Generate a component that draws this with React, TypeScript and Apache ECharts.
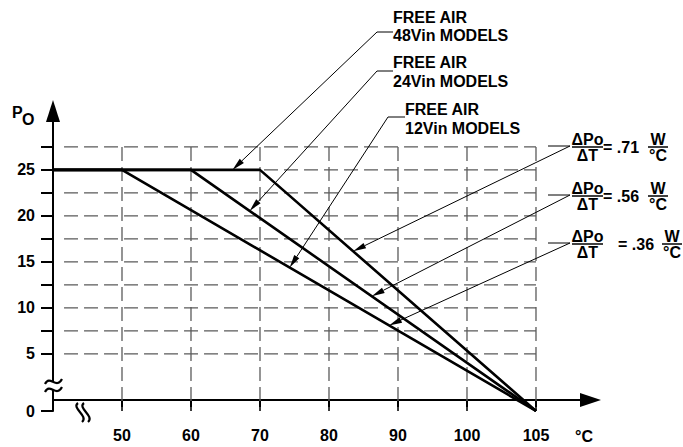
import React, { useEffect, useRef } from 'react';
import * as echarts from 'echarts';

// ---- data ----
const tempTicks = [50, 60, 70, 80, 90, 100, 105];
const tempTickPos = [50, 60, 70, 80, 90, 100, 110]; // broken axis: 105 placed one step after 100
const powerTicks = [0, 5, 7.5, 10, 12.5, 15, 17.5, 20, 22.5, 25, 27.5];
const powerLabels = [0, 5, 10, 15, 20, 25];
const powerGrid = [5, 7.5, 10, 12.5, 15, 17.5, 20, 22.5, 25, 27.5];
const models = ['48Vin', '24Vin', '12Vin'];
const kneeTemps = [70, 60, 50];
const ratedPower = 25;
const zeroPowerTemp = 105;
const originTemp = 40; // y-axis location on the broken temperature axis
const slopeTexts = ['.71', '.56', '.36'];
const modelTipTemps = [66, 68.5, 74.3];
const slopeTipTemps = [83.5, 86.2, 88.7];

// ---- scales for the broken axes ----
const Y_MIN = -1.2;
const xPos = (t: number) => {
  for (let i = 0; i < tempTicks.length - 1; i++) {
    if (t <= tempTicks[i + 1] || i === tempTicks.length - 2) {
      const a = tempTicks[i], b = tempTicks[i + 1];
      return tempTickPos[i] + ((t - a) * (tempTickPos[i + 1] - tempTickPos[i])) / (b - a);
    }
  }
  return t;
};
const yPos = (p: number) => (p >= 5 ? p : Y_MIN + (p * (5 - Y_MIN)) / 5);

const FONT = '"Liberation Sans", Arial, Helvetica, sans-serif';
const LBL = { fontSize: 16, fontWeight: 'bold' as const, fontFamily: FONT, color: '#000' };

export default function App() {
  const ref = useRef<HTMLDivElement>(null);
  useEffect(() => {
    const chart = echarts.init(ref.current!, null, { renderer: 'svg' });

    const gridSeries: any[] = [];
    tempTickPos.forEach((x) => {
      gridSeries.push({
        type: 'line', silent: true, symbol: 'none', z: 1,
        lineStyle: { color: '#5a5a5a', width: 1.3, type: [14, 6] },
        data: [[x, yPos(27.5)], [x, yPos(0)]],
      });
    });
    powerGrid.forEach((p) => {
      gridSeries.push({
        type: 'line', silent: true, symbol: 'none', z: 1,
        lineStyle: { color: '#5a5a5a', width: 1.3, type: [14, 6] },
        data: [[41.6, yPos(p)], [110, yPos(p)]],
      });
    });

    const curveSeries = models.map((m, i) => ({
      name: m,
      type: 'line', symbol: 'none', z: 5,
      lineStyle: { color: '#000', width: 2.6 },
      data: [
        [xPos(originTemp), yPos(ratedPower)],
        [xPos(kneeTemps[i]), yPos(ratedPower)],
        [xPos(zeroPowerTemp), yPos(0)],
      ],
    }));

    const findLabel = (v: number, pos: number[], lbls: number[]) => {
      let best = 0;
      pos.forEach((p, i) => { if (Math.abs(p - v) < Math.abs(pos[best] - v)) best = i; });
      return Math.abs(pos[best] - v) < 0.01 ? String(lbls[best]) : '';
    };

    chart.setOption({
      animation: false,
      grid: { left: 53, right: 92.5, top: 111, bottom: 36 },
      xAxis: {
        type: 'value', min: 40, max: 117.9,
        axisLine: { show: true, symbol: ['none', 'triangle'], symbolSize: [14, 21], lineStyle: { color: '#000', width: 2 } },
        axisTick: { show: true, customValues: tempTickPos, length: 11, lineStyle: { color: '#000', width: 2 } },
        axisLabel: { ...LBL, customValues: tempTickPos, margin: 16, formatter: (v: number) => findLabel(v, tempTickPos, tempTicks) },
        splitLine: { show: false },
      },
      yAxis: {
        type: 'value', min: Y_MIN, max: 31.4,
        axisLine: { show: true, symbol: ['none', 'triangle'], symbolSize: [14, 22], lineStyle: { color: '#000', width: 2 } },
        axisTick: { show: true, customValues: powerTicks.map(yPos), length: 12, lineStyle: { color: '#000', width: 2 } },
        axisLabel: { ...LBL, customValues: powerLabels.map(yPos), margin: 18, formatter: (v: number) => findLabel(v, powerLabels.map(yPos), powerLabels) },
        splitLine: { show: false },
      },
      series: [...gridSeries, ...curveSeries],
    });

    const px = (x: number, y: number) => chart.convertToPixel({ gridIndex: 0 }, [x, y]) as number[];
    const tipOnCurve = (i: number, t: number) => {
      const x = xPos(t);
      const kx = xPos(kneeTemps[i]);
      const ex = xPos(zeroPowerTemp);
      let y = yPos(ratedPower);
      if (x > kx) y = yPos(ratedPower) + ((x - kx) * (yPos(0) - yPos(ratedPower))) / (ex - kx);
      return px(x, y);
    };

    const g: any[] = [];
    const txt = (text: string, x: number, y: number, align = 'left', size = 16) => ({
      type: 'text', x, y, z: 20,
      style: { text, fill: '#000', font: `bold ${size}px ${FONT}`, align, verticalAlign: 'middle' },
    });
    const leader = (sx: number, sy: number, hx: number, tip: number[]) => {
      const [tx, ty] = tip;
      const dx = tx - sx, dy = ty - sy;
      const len = Math.hypot(dx, dy);
      const ux = dx / len, uy = dy / len;
      const L = 13, W = 6;
      const bx = tx - ux * L, by = ty - uy * L;
      const nx = -uy, ny = ux;
      g.push({ type: 'line', z: 15, shape: { x1: hx, y1: sy, x2: sx, y2: sy }, style: { stroke: '#000', lineWidth: 1 } });
      g.push({ type: 'line', z: 15, shape: { x1: sx, y1: sy, x2: bx, y2: by }, style: { stroke: '#000', lineWidth: 1 } });
      g.push({
        type: 'polygon', z: 15,
        shape: { points: [[tx, ty], [bx + (nx * W) / 2, by + (ny * W) / 2], [bx - (nx * W) / 2, by - (ny * W) / 2]] },
        style: { fill: '#000' },
      });
    };

    // model annotations
    const modelText = [
      { x: 393, y1: 17, y2: 35, ly: 32, lx: 377 },
      { x: 393, y1: 62, y2: 81, ly: 71, lx: 377 },
      { x: 405, y1: 109, y2: 128, ly: 117, lx: 388 },
    ];
    models.forEach((m, i) => {
      const a = modelText[i];
      g.push(txt('FREE AIR', a.x, a.y1));
      g.push(txt(`${m} MODELS`, a.x, a.y2));
      leader(a.lx, a.ly, a.x, tipOnCurve(i, modelTipTemps[i]));
    });

    // slope annotations
    const slopeText = [
      { bar: 147, eq: 603, wx: 658 },
      { bar: 196, eq: 603, wx: 658 },
      { bar: 244, eq: 618, wx: 672 },
    ];
    slopeTexts.forEach((s, i) => {
      const a = slopeText[i];
      g.push(txt('ΔPo', 587.5, a.bar - 8, 'center'));
      g.push({ type: 'line', z: 15, shape: { x1: 572, y1: a.bar, x2: 603, y2: a.bar }, style: { stroke: '#000', lineWidth: 1.5 } });
      g.push(txt('ΔT', 587.5, a.bar + 8, 'center'));
      g.push(txt(`= ${s}`, a.eq, a.bar));
      g.push(txt('W', a.wx, a.bar - 8, 'center'));
      g.push({ type: 'line', z: 15, shape: { x1: a.wx - 10, y1: a.bar, x2: a.wx + 10, y2: a.bar }, style: { stroke: '#000', lineWidth: 1.5 } });
      g.push(txt('°C', a.wx, a.bar + 8, 'center'));
      leader(570, a.bar - 1, 548, tipOnCurve(i, slopeTipTemps[i]));
    });

    // axis names
    g.push(txt('P', 12, 112));
    g.push(txt('O', 22, 119));
    g.push(txt('°C', 584, 436, 'center'));

    // break marks (drawn as wavy strokes)
    const wave = (x1: number, y1: number, x2: number, y2: number, c1: number[], c2: number[]) => ({
      type: 'bezierCurve', z: 20,
      shape: { x1, y1, x2, y2, cpx1: c1[0], cpy1: c1[1], cpx2: c2[0], cpy2: c2[1] },
      style: { stroke: '#000', lineWidth: 2.2, fill: 'none' },
    });
    g.push({ type: 'rect', z: 19, shape: { x: 50, y: 382, width: 6, height: 8 }, style: { fill: '#fff' } });
    g.push(wave(45, 384, 62, 379, [50, 374], [56, 390]));
    g.push(wave(45, 392, 62, 387, [50, 382], [56, 398]));
    g.push(wave(78, 403, 82, 422, [71, 408], [89, 416]));
    g.push(wave(84, 403, 88, 422, [77, 408], [95, 416]));

    chart.setOption({ graphic: g });
    return () => chart.dispose();
  }, []);
  return <div ref={ref} style={{ position: 'absolute', left: 0, top: 0, width: 683, height: 447 }} />;
}
